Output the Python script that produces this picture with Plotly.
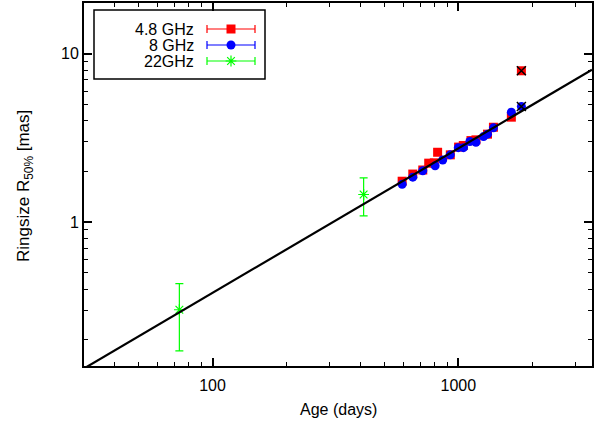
import numpy as np
import plotly.graph_objects as go

# ---------------- data ----------------
# 4.8 GHz (age in days, ring size in mas)
t_48 = [591, 653, 717, 758, 799, 824, 928, 1003, 1048, 1126, 1180, 1315, 1390, 1644, 1806]
r_48 = [1.75, 1.93, 2.04, 2.24, 2.25, 2.60, 2.51, 2.79, 2.85, 3.05, 3.08, 3.33, 3.66, 4.20, 7.92]

# 8 GHz
t_8 = [591, 653, 717, 805, 864, 928, 1000, 1050, 1115, 1180, 1267, 1315, 1390, 1644, 1806]
r_8 = [1.68, 1.85, 2.02, 2.16, 2.34, 2.51, 2.77, 2.77, 3.01, 2.98, 3.22, 3.33, 3.63, 4.50, 4.86]

# 22 GHz with error bars
t_22 = [73.3, 412]
r_22 = [0.302, 1.46]
e_22 = [0.13, 0.37]

# flagged epochs (marked with a cross): last point of 4.8 and 8 GHz
flag_idx = 14

# power-law fit  R = 10**FIT_LOGA * t**FIT_SLOPE
FIT_SLOPE = 0.858
FIT_LOGA = -2.136

x_ticks = [100, 1000]
x_minor = [40, 50, 60, 70, 80, 90, 200, 300, 400, 500, 600, 700, 800, 900, 2000, 3000]
y_ticks = [1, 10]
y_minor = [0.2, 0.3, 0.4, 0.5, 0.6, 0.7, 0.8, 0.9, 2, 3, 4, 5, 6, 7, 8, 9]

X_RANGE = (30, 3500)
Y_RANGE = (0.14, 20)

series_names = ["4.8 GHz", "8 GHz", "22GHz"]
series_colors = ["#ff0000", "#0000ff", "#00ff00"]

FONT = "Liberation Sans, Arial, sans-serif"
FS = 16

fig = go.Figure()

fig.add_trace(go.Scatter(x=t_48, y=r_48, mode="markers",
                         marker=dict(symbol="square", size=9, color=series_colors[0]),
                         showlegend=False))
fig.add_trace(go.Scatter(x=t_8, y=r_8, mode="markers",
                         marker=dict(symbol="circle", size=9, color=series_colors[1]),
                         showlegend=False))
fig.add_trace(go.Scatter(x=t_22, y=r_22, mode="markers",
                         marker=dict(symbol="asterisk-open", size=9, color=series_colors[2],
                                     line=dict(color=series_colors[2], width=1.2)),
                         error_y=dict(type="data", array=e_22, color=series_colors[2],
                                      thickness=1.2, width=4),
                         showlegend=False))

tfit = np.logspace(np.log10(X_RANGE[0]), np.log10(X_RANGE[1]), 60)
rfit = 10 ** FIT_LOGA * tfit ** FIT_SLOPE
fig.add_trace(go.Scatter(x=tfit, y=rfit, mode="lines",
                         line=dict(color="black", width=2.2), showlegend=False))

fig.add_trace(go.Scatter(x=[t_48[flag_idx], t_8[flag_idx]], y=[r_48[flag_idx], r_8[flag_idx]],
                         mode="markers",
                         marker=dict(symbol="x-thin-open", size=9, color="black",
                                     line=dict(color="black", width=1.5)),
                         showlegend=False))

# ---------------- custom legend (overlay axes in pixel units) ----------------
L, R_, T, B = 84, 592, 3, 366
W, H = 600, 423
leg_rows = [29, 45, 61]
leg_symbols = ["square", "circle", "asterisk-open"]
for name, col, sym, yy in zip(series_names, series_colors, leg_symbols, leg_rows):
    mk = dict(symbol=sym, size=9, color=col)
    if sym == "asterisk-open":
        mk = dict(symbol=sym, size=9, color=col, line=dict(color=col, width=1.2))
    fig.add_trace(go.Scatter(x=[231], y=[yy], xaxis="x2", yaxis="y2", mode="markers",
                             marker=mk,
                             error_x=dict(type="data", array=[24], color=col,
                                          thickness=1.2, width=4),
                             showlegend=False, hoverinfo="skip"))
    fig.add_annotation(x=196, y=yy, xref="x2", yref="y2", text=name, showarrow=False,
                       xanchor="right", yanchor="middle",
                       font=dict(family=FONT, size=FS, color="black"))

fig.add_shape(type="rect", xref="x2", yref="y2", x0=94, x1=265, y0=10, y1=79,
              line=dict(color="black", width=1.5))

# axis titles (paper coordinates)
def px_to_paper_x(px):
    return (px - L) / (R_ - L)

def px_to_paper_y(py):
    return (B - py) / (B - T)

fig.add_annotation(x=px_to_paper_x((L + R_) / 2), y=px_to_paper_y(410), xref="paper", yref="paper",
                   text="Age (days)", showarrow=False, xanchor="center", yanchor="middle",
                   font=dict(family=FONT, size=FS, color="black"))
fig.add_annotation(x=px_to_paper_x(25), y=px_to_paper_y(186), xref="paper", yref="paper",
                   text="Ringsize R<sub>50%</sub> [mas]",
                   showarrow=False, xanchor="center", yanchor="middle", textangle=-90,
                   font=dict(family=FONT, size=17, color="black"))

axis_common = dict(
    type="log", showgrid=False, zeroline=False, automargin=False,
    showline=True, linecolor="black", linewidth=2, mirror="allticks",
    ticks="inside", ticklen=8, tickwidth=1.5, tickcolor="black",
    tickfont=dict(family=FONT, size=FS, color="black"),
)

fig.update_layout(
    width=W, height=H, autosize=False,
    margin=dict(l=L, r=W - R_, t=T, b=H - B, autoexpand=False),
    paper_bgcolor="white", plot_bgcolor="white",
    showlegend=False,
    xaxis=dict(axis_common,
               range=[np.log10(X_RANGE[0]), np.log10(X_RANGE[1])],
               tickmode="array", tickvals=x_ticks, ticktext=[str(v) for v in x_ticks],
               ticklabelstandoff=4,
               minor=dict(tickmode="array", tickvals=x_minor, ticks="inside", ticklen=4,
                          tickwidth=1.2, tickcolor="black", showgrid=False)),
    yaxis=dict(axis_common,
               range=[np.log10(Y_RANGE[0]), np.log10(Y_RANGE[1])],
               tickmode="array", tickvals=y_ticks, ticktext=[str(v) for v in y_ticks],
               minor=dict(tickmode="array", tickvals=y_minor, ticks="inside", ticklen=4,
                          tickwidth=1.2, tickcolor="black", showgrid=False)),
    xaxis2=dict(overlaying="x", range=[L, R_], visible=False, anchor="y2", automargin=False),
    yaxis2=dict(overlaying="y", range=[B, T], visible=False, anchor="x2", automargin=False),
)

fig.write_html("out.html", config={"displayModeBar": False},
               post_script="document.body.style.margin='0px';document.body.style.padding='0px';")
